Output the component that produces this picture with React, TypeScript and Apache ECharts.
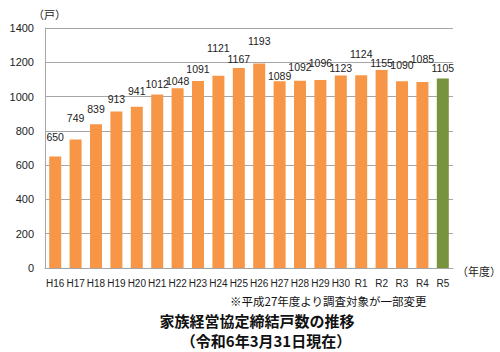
import React, { useEffect, useRef } from "react";
import * as echarts from "echarts";

const categories = ["H16","H17","H18","H19","H20","H21","H22","H23","H24","H25","H26","H27","H28","H29","H30","R1","R2","R3","R4","R5"];
const values = [650,749,839,913,941,1012,1048,1091,1121,1167,1193,1089,1092,1096,1123,1124,1155,1090,1085,1105];
const yTicks = [0,200,400,600,800,1000,1200,1400];
// label distance above bar (styling, px)
const labelGap = [14,16,10,7,10,5,2,6,22,3,17,0,8,12,2,16,2,11,18,5];

const ORANGE = "#F79646";
const GREEN = "#77933C";
const NUM_FONT = "Liberation Sans, Arial, sans-serif";
const JP_FONT = "'Noto Sans CJK JP', sans-serif";

export default function App() {
  const ref = useRef<HTMLDivElement>(null);
  useEffect(() => {
    const chart = echarts.init(ref.current!, null, { renderer: "svg" });
    const last = values.length - 1;
    chart.setOption({
      animation: false,
      backgroundColor: "#ffffff",
      grid: { left: 45, right: 47, top: 28, bottom: 84 },
      xAxis: {
        type: "category",
        data: categories,
        axisLine: { show: true, lineStyle: { color: "#a6a6a6", width: 1 } },
        axisTick: { show: false },
        axisLabel: { color: "#222", fontSize: 10, fontFamily: NUM_FONT, margin: 10, interval: 0 },
      },
      yAxis: {
        type: "value",
        min: yTicks[0],
        max: yTicks[yTicks.length - 1],
        interval: 200,
        axisLine: { show: true, lineStyle: { color: "#a6a6a6", width: 1 } },
        axisTick: { show: false },
        splitLine: { lineStyle: { color: "#a6a6a6", width: 1 } },
        axisLabel: { color: "#222", fontSize: 11, fontFamily: NUM_FONT, margin: 11, formatter: (v: number) => String(v) },
      },
      series: [
        {
          type: "bar",
          barWidth: 12,
          data: values.map((v, i) => ({
            value: v,
            itemStyle: { color: i === last ? GREEN : ORANGE },
            label: { distance: labelGap[i] },
          })),
          label: {
            show: true,
            position: "top",
            color: "#222",
            fontSize: 10.5,
            fontFamily: NUM_FONT,
          },
        },
      ],
      graphic: [
        { type: "text", left: 33, top: 8, style: { text: "（戸）", fontSize: 11, fontFamily: JP_FONT, fill: "#222" } },
        { type: "text", left: 457, top: 265, style: { text: "（年度）", fontSize: 11, fontFamily: JP_FONT, fill: "#222" } },
        { type: "text", left: 230, top: 295, style: { text: "※平成27年度より調査対象が一部変更", fontSize: 11.5, fontFamily: JP_FONT, fill: "#111" } },
        { type: "text", x: 257, y: 320, style: { text: "家族経営協定締結戸数の推移", fontSize: 15, fontWeight: "bold", fontFamily: JP_FONT, fill: "#111", align: "center", verticalAlign: "middle" } },
        { type: "text", x: 266, y: 340, style: { text: "（令和6年3月31日現在）", fontSize: 15, fontWeight: "bold", fontFamily: JP_FONT, fill: "#111", align: "center", verticalAlign: "middle" } },
      ],
    });
    return () => chart.dispose();
  }, []);
  return <div ref={ref} style={{ position: "absolute", left: 0, top: 0, width: 500, height: 352 }} />;
}
